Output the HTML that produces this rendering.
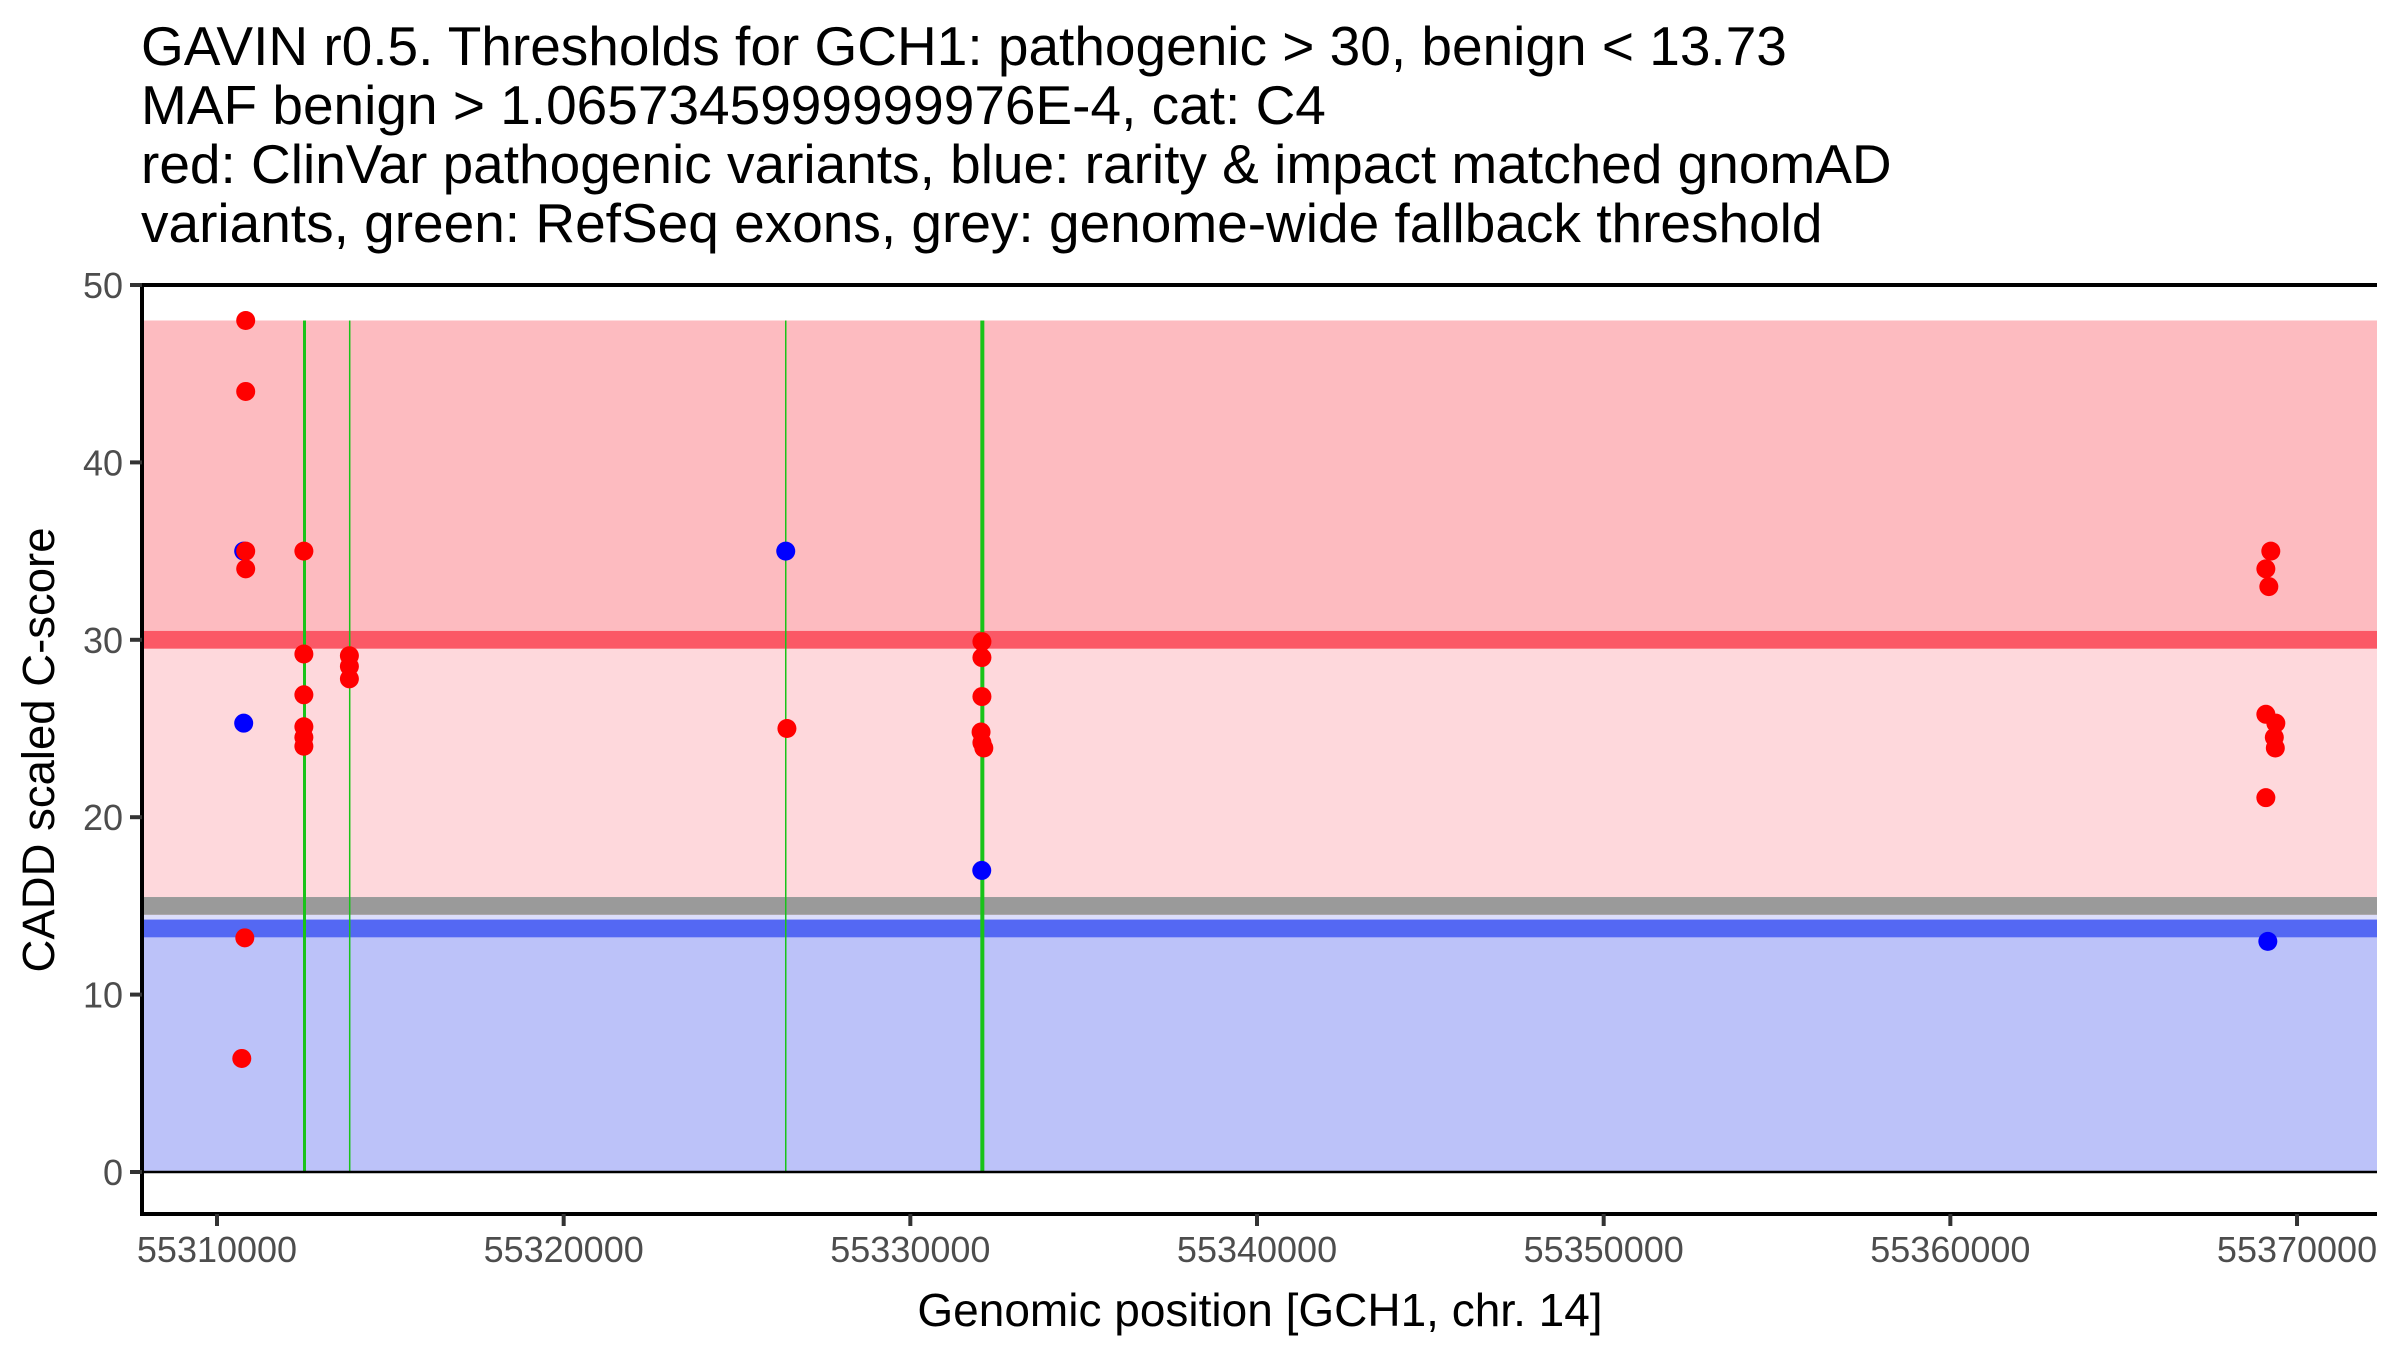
<!DOCTYPE html>
<html><head><meta charset="utf-8"><style>
html,body{margin:0;padding:0;background:#fff;}
svg{display:block;font-family:"Liberation Sans",Arial,sans-serif;}
</style></head><body>
<svg id="chart" width="2400" height="1350" viewBox="0 0 2400 1350" xmlns="http://www.w3.org/2000/svg">
<g font-size="55" fill="#000">
<text x="141" y="65">GAVIN r0.5. Thresholds for GCH1: pathogenic &gt; 30, benign &lt; 13.73</text>
<text x="141" y="124">MAF benign &gt; 1.0657345999999976E-4, cat: C4</text>
<text x="141" y="183">red: ClinVar pathogenic variants, blue: rarity &amp; impact matched gnomAD</text>
<text x="141" y="242">variants, green: RefSeq exons, grey: genome-wide fallback threshold</text>
</g>
<g id="bands"></g>
<g id="exons"></g>
<g id="axes"></g>
<g id="points"></g>
<text x="1260" y="1326" font-size="46" text-anchor="middle">Genomic position [GCH1, chr. 14]</text>
<text transform="translate(54,750) rotate(-90)" font-size="45.5" text-anchor="middle">CADD scaled C-score</text>
</svg>
<script>
const xTicks = [55310000, 55320000, 55330000, 55340000, 55350000, 55360000, 55370000];
const yTicks = [0, 10, 20, 30, 40, 50];
const exonPositions = [55312524, 55313828, 55326406, 55332077];
const exonWidths = [3, 1.5, 1.5, 4];
const thresholdPathogenic = 30;
const thresholdBenign = 13.73;
const thresholdFallback = 15;
const bandMax = 48;
const benignPos = [55310770, 55310770, 55326406, 55332060, 55369158];
const benignScore = [35, 25.3, 35, 17.0, 13.0];
const pathoPos = [55310828, 55310828, 55310828, 55310828, 55310802, 55310715,
  55312506, 55312506, 55312506, 55312506, 55312506, 55312506,
  55313819, 55313819, 55313819,
  55326440,
  55332065, 55332065, 55332065, 55332040, 55332065, 55332120,
  55369244, 55369101, 55369187, 55369101, 55369389, 55369345, 55369374, 55369101];
const pathoScore = [48, 44, 35, 34, 13.2, 6.4,
  35, 29.2, 26.9, 25.1, 24.5, 24.0,
  29.1, 28.5, 27.8,
  25.0,
  29.9, 29.0, 26.8, 24.8, 24.2, 23.9,
  35, 34, 33, 25.8, 25.3, 24.5, 23.9, 21.1];

const NS = "http://www.w3.org/2000/svg";
const X0 = 142, X1 = 2377, YTOP = 285, YAX = 1214;
function xs(v){ return 217 + (v - 55310000) * 0.034667; }
function ys(v){ return 1172 - v * 17.74; }
function mk(parent, tag, attrs){
  const e = document.createElementNS(NS, tag);
  for (const k in attrs) e.setAttribute(k, attrs[k]);
  document.getElementById(parent).appendChild(e);
  return e;
}
let r;
r = mk('bands','rect',{x:X0,y:ys(bandMax),width:X1-X0,height:ys(thresholdPathogenic)-ys(bandMax),fill:'#fdbbc0'});


r = mk('bands','rect',{x:X0,y:ys(thresholdPathogenic),width:X1-X0,height:ys(thresholdBenign)-ys(thresholdPathogenic),fill:'#fed8dc'});


r = mk('bands','rect',{x:X0,y:ys(thresholdFallback-0.5),width:X1-X0,height:ys(thresholdBenign+0.5)-ys(thresholdFallback-0.5),fill:'#dcdefb'});


r = mk('bands','rect',{x:X0,y:ys(thresholdBenign),width:X1-X0,height:ys(0)-ys(thresholdBenign),fill:'#bcc2f9'});


r = mk('bands','rect',{x:X0,y:ys(thresholdPathogenic+0.5),width:X1-X0,height:ys(thresholdPathogenic-0.5)-ys(thresholdPathogenic+0.5),fill:'#fb5866'});


r = mk('bands','rect',{x:X0,y:ys(thresholdFallback+0.5),width:X1-X0,height:ys(thresholdFallback-0.5)-ys(thresholdFallback+0.5),fill:'#9a9a9a'});


r = mk('bands','rect',{x:X0,y:ys(thresholdBenign+0.5),width:X1-X0,height:ys(thresholdBenign-0.5)-ys(thresholdBenign+0.5),fill:'#5468f3'});


exonPositions.forEach((p,i)=>{
  const l = mk('exons','line',{x1:xs(p),x2:xs(p),y1:ys(bandMax),y2:ys(0),stroke:'#19c319','stroke-width':exonWidths[i]});
  
  
});
let a;
a = mk('axes','line',{x1:X0,x2:X1,y1:ys(50),y2:ys(50),stroke:'#000','stroke-width':4});


a = mk('axes','line',{x1:X0,x2:X1,y1:ys(0),y2:ys(0),stroke:'#000','stroke-width':2.5});


a = mk('axes','line',{x1:X0,x2:X0,y1:YTOP-2,y2:YAX+2,stroke:'#000','stroke-width':4});


a = mk('axes','line',{x1:X0-2,x2:X1,y1:YAX,y2:YAX,stroke:'#000','stroke-width':4});


yTicks.forEach(v=>{
  const t = mk('axes','line',{x1:X0-12,x2:X0,y1:ys(v),y2:ys(v),stroke:'#333','stroke-width':4});
  
  
  const s = mk('axes','text',{x:X0-19,y:ys(v)+13,'font-size':36,'text-anchor':'end',fill:'#4d4d4d'});
  s.textContent = v;
  
  
});
xTicks.forEach(v=>{
  const t = mk('axes','line',{x1:xs(v),x2:xs(v),y1:YAX,y2:YAX+12,stroke:'#333','stroke-width':4});
  
  
  const s = mk('axes','text',{x:xs(v),y:1262,'font-size':36,'text-anchor':'middle',fill:'#4d4d4d'});
  s.textContent = v;
  
  
});
benignPos.forEach((p,i)=>{
  const c = mk('points','circle',{cx:xs(p),cy:ys(benignScore[i]),r:9.5,fill:'#0000ff'});
  
  
});
pathoPos.forEach((p,i)=>{
  const c = mk('points','circle',{cx:xs(p),cy:ys(pathoScore[i]),r:9.5,fill:'#ff0000'});
  
  
});
</script>
</body></html>
